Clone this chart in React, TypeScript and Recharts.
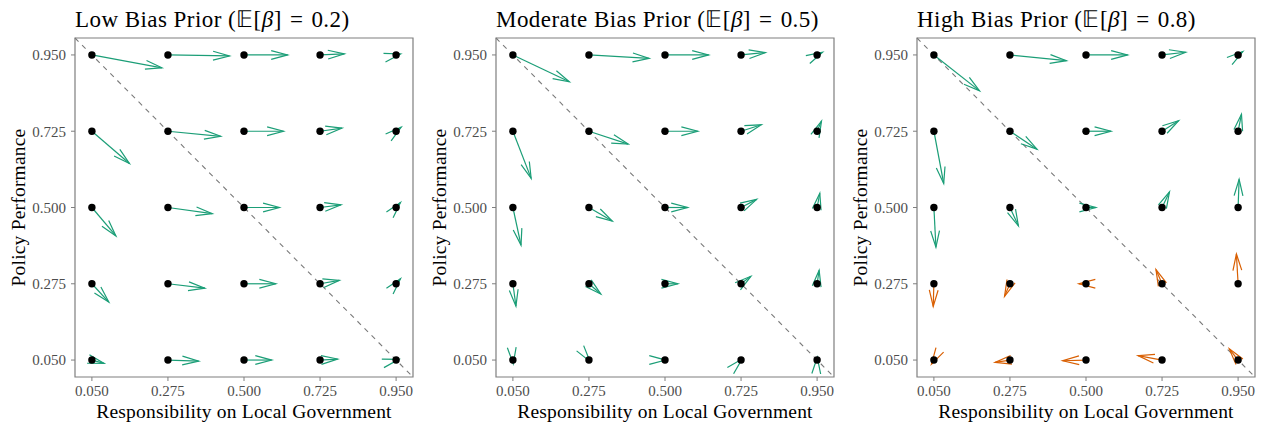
import React from 'react';
import { ScatterChart, Scatter, XAxis, YAxis, ReferenceLine, ReferenceArea } from 'recharts';

// grid of evaluated states
const gridX = [0.05, 0.275, 0.5, 0.725, 0.95];
const gridY = [0.95, 0.725, 0.5, 0.275, 0.05];

// drift vectors, rows follow gridY, columns follow gridX
const lowDx = [
  [0.207, 0.182, 0.129, 0.072, 0.013],
  [0.111, 0.156, 0.117, 0.065, 0.015],
  [0.071, 0.131, 0.105, 0.062, 0.013],
  [0.05, 0.109, 0.094, 0.057, 0.013],
  [0.036, 0.091, 0.082, 0.052, 0.008],
];
const lowDy = [
  [-0.038, -0.003, 0, 0.003, 0.003],
  [-0.095, -0.015, 0, 0.009, 0.012],
  [-0.084, -0.018, 0, 0.008, 0.015],
  [-0.054, -0.013, 0, 0.01, 0.015],
  [-0.01, -0.003, 0, 0.003, 0.002],
];

const modDx = [
  [0.167, 0.178, 0.129, 0.072, 0.016],
  [0.054, 0.116, 0.097, 0.06, 0.013],
  [0.024, 0.069, 0.067, 0.046, 0.008],
  [0.009, 0.035, 0.038, 0.029, 0.006],
  [0.001, 0.003, 0.002, 0.003, 0.0005],
];
const modDy = [
  [-0.079, -0.01, 0, 0.007, 0.008],
  [-0.139, -0.038, 0, 0.019, 0.03],
  [-0.111, -0.04, 0, 0.024, 0.042],
  [-0.066, -0.03, 0, 0.022, 0.04],
  [-0.011, -0.004, 0, 0.003, 0.008],
];

const highDx = [
  [0.135, 0.167, 0.123, 0.07, 0.014],
  [0.029, 0.08, 0.074, 0.049, 0.01],
  [0.006, 0.025, 0.029, 0.022, 0.003],
  [-0.002, -0.016, -0.021, -0.018, -0.005],
  [-0.007, -0.044, -0.069, -0.071, -0.026],
];
const highDy = [
  [-0.106, -0.017, 0, 0.008, 0.01],
  [-0.154, -0.053, 0, 0.031, 0.05],
  [-0.117, -0.054, 0, 0.046, 0.083],
  [-0.067, -0.037, 0, 0.042, 0.088],
  [-0.012, -0.007, -0.002, 0.013, 0.033],
];
// 1 = reversed drift (orange)
const highReversed = [
  [0, 0, 0, 0, 0],
  [0, 0, 0, 0, 0],
  [0, 0, 0, 0, 0],
  [1, 1, 1, 1, 1],
  [1, 1, 1, 1, 1],
];

const GREEN = '#1b9e77';
const ORANGE = '#d95f02';
const FONT = '"Liberation Serif", serif';

const points = gridY.flatMap((y) => gridX.map((x) => ({ x, y })));

const makeArrow = (color: string) => (props: any) => {
  const { x1, y1, x2, y2 } = props;
  const ang = Math.atan2(y2 - y1, x2 - x1);
  const L = 17;
  const a = (15 * Math.PI) / 180;
  const ax = x2 - L * Math.cos(ang - a);
  const ay = y2 - L * Math.sin(ang - a);
  const bx = x2 - L * Math.cos(ang + a);
  const by = y2 - L * Math.sin(ang + a);
  return (
    <g>
      <line x1={x1} y1={y1} x2={x2} y2={y2} stroke={color} strokeWidth={1.2} />
      <polyline points={`${ax},${ay} ${x2},${y2} ${bx},${by}`} fill="none" stroke={color} strokeWidth={1.2} />
    </g>
  );
};

const Dot = (props: any) => <circle cx={props.cx} cy={props.cy} r={3.7} fill="#000" />;

interface PanelProps {
  name: string;
  prior: string;
  dx: number[][];
  dy: number[][];
  reversed?: number[][];
}

function Panel({ name, prior, dx, dy, reversed }: PanelProps) {
  const tickStyle = { fontFamily: FONT, fontSize: 15, fill: '#4d4d4d' };
  return (
    <div style={{ position: 'relative', width: 421, height: 423 }}>
      <svg width={421} height={40} style={{ position: 'absolute', left: 0, top: 0 }}>
        <text x={75} y={27} fontFamily={FONT} fontSize={23} letterSpacing={0.45} fill="#000">
          {name} (𝔼[<tspan fontStyle="italic">β</tspan>]{'\u2004'}={'\u2004'}{prior})
        </text>
      </svg>
      <ScatterChart width={421} height={423} margin={{ top: 38, right: 8, bottom: 0, left: 12 }}>
        <XAxis
          type="number"
          dataKey="x"
          domain={[0, 1]}
          ticks={gridX}
          tickFormatter={(v: number) => v.toFixed(3)}
          axisLine={false}
          tickLine={{ stroke: '#7f7f7f' }}
          tickSize={4}
          tickMargin={4}
          tick={tickStyle}
          height={46}
          label={{
            value: 'Responsibility on Local Government',
            position: 'insideBottom',
            offset: 5,
            style: { fontFamily: FONT, fontSize: 19.5, fill: '#000', letterSpacing: 0.2 },
          }}
        />
        <YAxis
          type="number"
          dataKey="y"
          domain={[0, 1]}
          ticks={gridY}
          tickFormatter={(v: number) => v.toFixed(3)}
          axisLine={false}
          tickLine={{ stroke: '#7f7f7f' }}
          tickSize={4}
          tickMargin={5}
          tick={tickStyle}
          width={63}
          label={{
            value: 'Policy Performance',
            angle: -90,
            position: 'insideLeft',
            offset: 6,
            style: { fontFamily: FONT, fontSize: 19.5, fill: '#000', textAnchor: 'middle', letterSpacing: 0.2 },
          }}
        />
        <ReferenceArea x1={0} x2={1} y1={0} y2={1} fill="none" stroke="#7f7f7f" strokeWidth={1.2} ifOverflow="visible" />
        <ReferenceLine
          segment={[{ x: 0, y: 1 }, { x: 1, y: 0 }]}
          stroke="#7a7a7a"
          strokeDasharray="5 5"
          strokeWidth={1.1}
          ifOverflow="visible"
        />
        {gridY.flatMap((y, r) =>
          gridX.map((x, c) => (
            <ReferenceLine
              key={`a-${r}-${c}`}
              segment={[{ x, y }, { x: x + dx[r][c], y: y + dy[r][c] }]}
              ifOverflow="visible"
              shape={makeArrow(reversed && reversed[r][c] ? ORANGE : GREEN)}
            />
          ))
        )}
        <Scatter data={points} shape={Dot} isAnimationActive={false} />
      </ScatterChart>
    </div>
  );
}

export default function App() {
  return (
    <div style={{ position: 'absolute', left: 0, top: 0, width: 1268, height: 423, display: 'flex', background: '#fff' }}>
      <Panel name="Low Bias Prior" prior="0.2" dx={lowDx} dy={lowDy} />
      <Panel name="Moderate Bias Prior" prior="0.5" dx={modDx} dy={modDy} />
      <Panel name="High Bias Prior" prior="0.8" dx={highDx} dy={highDy} reversed={highReversed} />
    </div>
  );
}
